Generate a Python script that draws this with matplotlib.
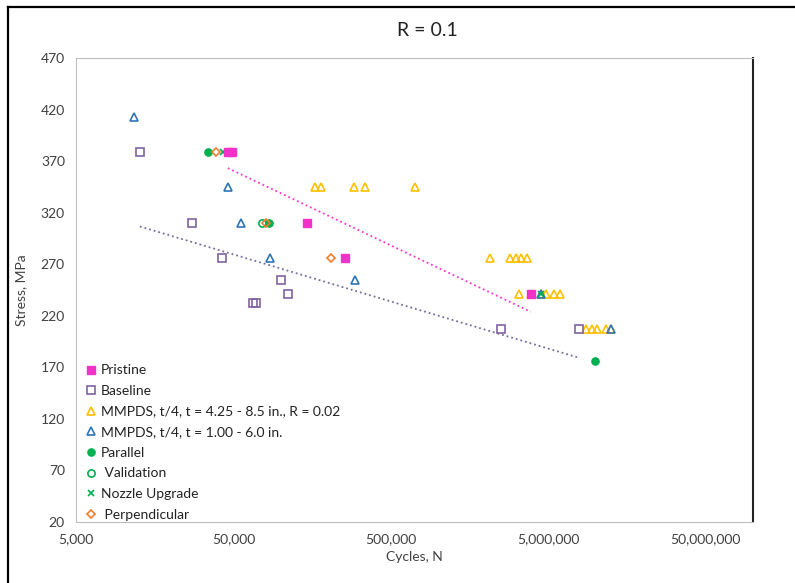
import numpy as np
import matplotlib.pyplot as plt
from matplotlib.lines import Line2D
from matplotlib.ticker import FixedLocator, FixedFormatter, NullLocator

plt.rcParams['font.family'] = ['Lato', 'DejaVu Sans']

# datos (ciclos, tension en MPa)
pristine_n = [46100, 48700, 145900, 256000, 3870000]
pristine_s = [379, 379, 310, 276, 241]

baseline_n = [12730, 27200, 42100, 66200, 69500, 99700, 110500, 2520000, 7810000]
baseline_s = [379, 310, 276, 232, 232, 255, 241, 207, 207]

mmpds_a_n = [164500, 179000, 291000, 343000, 717000,
             2130000, 2850000, 3100000, 3380000, 3690000,
             3240000, 3870000, 4480000, 4870000, 5470000, 5910000,
             8740000, 9440000, 10200000, 11700000, 12600000]
mmpds_a_s = [345, 345, 345, 345, 345,
             276, 276, 276, 276, 276,
             241, 241, 241, 241, 241, 241,
             207, 207, 207, 207, 207]

mmpds_b_n = [11670, 46300, 56000, 85300, 298000, 4480000, 12600000]
mmpds_b_s = [413, 345, 310, 276, 255, 241, 207]

parallel_n = [34600, 84000, 9870000]
parallel_s = [379, 310, 176]

validation_n = [75800]
validation_s = [310]

nozzle_n = [43100, 4480000]
nozzle_s = [379, 241]

perp_n = [38500, 80400, 207000]
perp_s = [379, 310, 276]

x_ticks = [5000, 50000, 500000, 5000000, 50000000]
x_tick_labels = ["5,000", "50,000", "500,000", "5,000,000", "50,000,000"]
y_ticks = np.arange(20, 471, 50)


def tendencia(n, s):
    """Ajuste s = a + b*log10(n), como la linea de tendencia logaritmica de Excel."""
    logn = np.log10(n)
    b, a = np.polyfit(logn, s, 1)
    x = np.array([min(n), max(n)])
    return x, a + b * np.log10(x)


fig = plt.figure(figsize=(7.95, 5.83), dpi=100)
ax = fig.add_axes([0.0956, 0.1046, 0.8516, 0.7959])

ms = 5.2
ax.plot(pristine_n, pristine_s, 's', color='#F032C8', ms=ms, label='Pristine', zorder=5)
ax.plot(baseline_n, baseline_s, 's', mfc='none', mec='#8064A2', mew=1.2, ms=ms,
        label='Baseline', zorder=4)
ax.plot(mmpds_a_n, mmpds_a_s, '^', mfc='none', mec='#FFC000', mew=1.2, ms=ms,
        label='MMPDS, t/4, t = 4.25 - 8.5 in., R = 0.02', zorder=3)
ax.plot(mmpds_b_n, mmpds_b_s, '^', mfc='none', mec='#2E75B6', mew=1.2, ms=ms,
        label='MMPDS, t/4, t = 1.00 - 6.0 in.', zorder=4)
ax.plot(parallel_n, parallel_s, 'o', color='#00B050', ms=ms, label='Parallel', zorder=4)
ax.plot(validation_n, validation_s, 'o', mfc='none', mec='#00B050', mew=1.2, ms=ms,
        label=' Validation', zorder=4)
ax.plot(nozzle_n, nozzle_s, 'x', color='#00B050', mew=1.2, ms=ms - 1,
        label='Nozzle Upgrade', zorder=4)
ax.plot(perp_n, perp_s, 'D', mfc='none', mec='#ED7D31', mew=1.2, ms=ms - 1,
        label=' Perpendicular', zorder=4)

xt, yt = tendencia(pristine_n, pristine_s)
ax.plot(xt, yt, ':', color='#FF33CC', lw=1.3, zorder=2)
xt, yt = tendencia(baseline_n, baseline_s)
ax.plot(xt, yt, ':', color='#7A6A9E', lw=1.3, zorder=2)

ax.set_xscale('log')
ax.set_xlim(5000, 1e8)
ax.set_ylim(20, 470)
ax.xaxis.set_major_locator(FixedLocator(x_ticks))
ax.xaxis.set_major_formatter(FixedFormatter(x_tick_labels))
ax.xaxis.set_minor_locator(NullLocator())
ax.set_yticks(y_ticks)
ax.tick_params(length=0, labelsize=10, colors='#404040', pad=8)

for side in ['left', 'top', 'bottom']:
    ax.spines[side].set_color('#BFBFBF')
ax.spines['right'].set_color('#222222')
ax.spines['right'].set_linewidth(1.5)

ax.set_xlabel("Cycles, N", fontsize=10, color='#404040', labelpad=4)
ax.set_ylabel("Stress, MPa", fontsize=10, color='#404040', labelpad=10)
fig.text(0.537, 0.947, "R = 0.1", ha='center', va='center', fontsize=14, color='#222222')

ax.legend(loc='lower left', bbox_to_anchor=(0.0, -0.018), frameon=False,
          fontsize=10, labelspacing=0.62, handlelength=0.8, handletextpad=0.3,
          borderaxespad=0.3, labelcolor='#222222')

# marco negro de la captura
fig.add_artist(Line2D([0.010, 1.0], [0.988, 0.988], color='black', lw=1.6))
fig.add_artist(Line2D([0.010, 0.010], [0.0, 0.988], color='black', lw=1.6))

plt.savefig('out.png', dpi=100)
